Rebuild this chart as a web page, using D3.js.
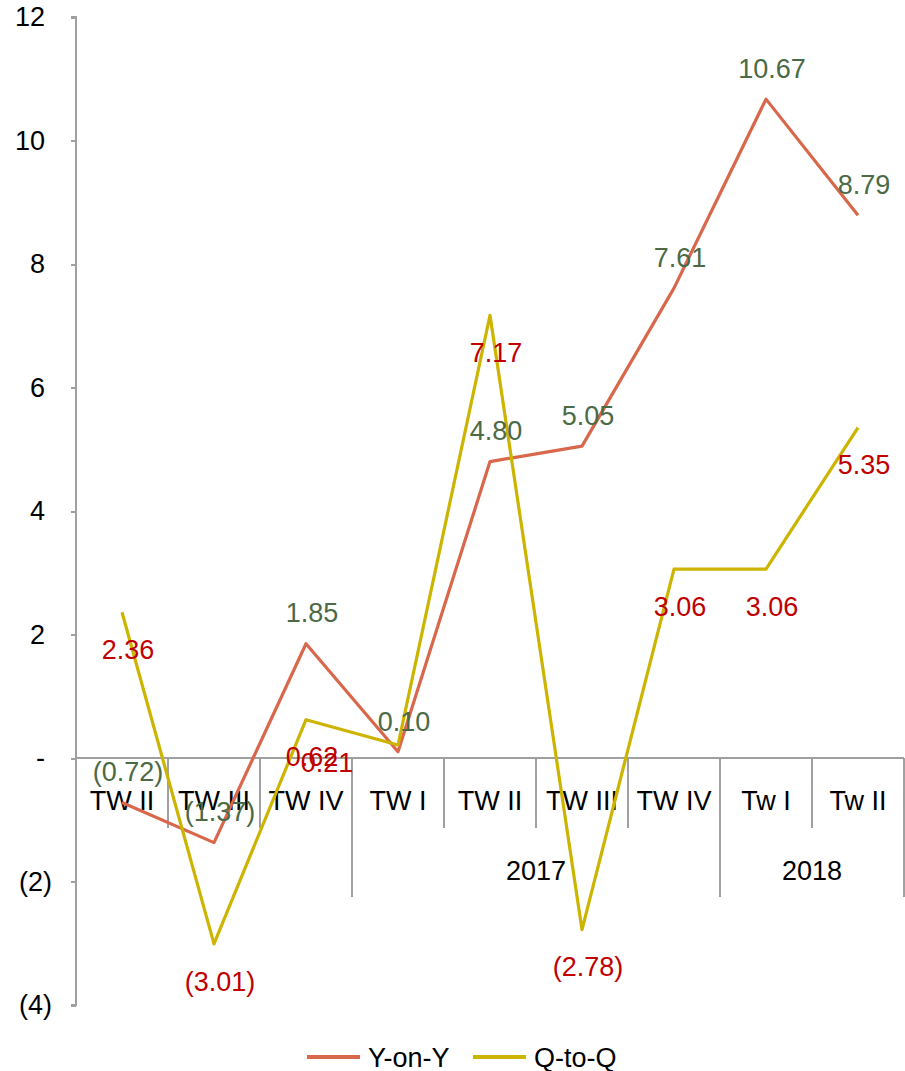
<!DOCTYPE html>
<meta charset="utf-8">
<style>
body{ margin:0; background:#fff; }
text{ font-family:"Liberation Sans", Arial, sans-serif; font-size:27px; }
.axis path, .axis line{ stroke:#a0a0a0; stroke-width:2px; shape-rendering:crispEdges; }
.grp line{ stroke:#a0a0a0; stroke-width:2px; shape-rendering:crispEdges; }
</style>
<body>
<script src="https://d3js.org/d3.v7.min.js"></script>
<script>
// quarters along the bottom
var quarters = ["TW II","TW III","TW IV","TW I","TW II","TW III","TW IV","Tw I","Tw II"];
// year groups under the quarters
var years = ["2017","2018"];
var yearFrom = [3, 7];
var yearTo = [6, 8];

var yoy = [-0.72, -1.37, 1.85, 0.10, 4.80, 5.05, 7.61, 10.67, 8.79];
var qoq = [2.36, -3.01, 0.62, 0.21, 7.17, -2.78, 3.06, 3.06, 5.35];

var yTicks = [-4, -2, 0, 2, 4, 6, 8, 10, 12];

var W = 905, H = 1071;
var svg = d3.select("body").append("svg").attr("width", W).attr("height", H);

var x = d3.scaleBand().domain(d3.range(quarters.length)).range([76, 904]);
var y = d3.scaleLinear().domain([-4, 12]).range([1005, 17]);

var fmtNum = d3.format(".2f");
function paren(v, f){ return v < 0 ? "(" + f(-v) + ")" : f(v); }

// y axis
var yAxis = d3.axisLeft(y).tickValues(yTicks).tickSize(5).tickPadding(26)
  .tickFormat(function(d){ return d == 0 ? "-" : paren(d, d3.format("d")); });
var ga = svg.append("g").attr("class","axis").attr("transform","translate(76,0)").call(yAxis);
ga.select(".domain").attr("d", "M-5," + y(12) + "H0V" + y(-4) + "H-5");
ga.selectAll(".tick text").attr("fill","#000")
  .attr("x", function(d){ return d < 0 ? -24 : -31; });

// category axis on zero
var g0 = svg.append("g").attr("class","grp");
g0.append("line").attr("x1", 76).attr("x2", 904).attr("y1", y(0)).attr("y2", y(0));
var bounds = d3.range(1, quarters.length + 1);
g0.selectAll("line.div").data(bounds).enter().append("line").attr("class","div")
  .attr("x1", function(i){ return i < quarters.length ? x(i) : x(i-1) + x.bandwidth(); })
  .attr("x2", function(i){ return i < quarters.length ? x(i) : x(i-1) + x.bandwidth(); })
  .attr("y1", y(0))
  .attr("y2", function(i){ return (yearFrom.indexOf(i) >= 0 || yearTo.indexOf(i-1) >= 0) ? 897 : 828; });

svg.append("g").selectAll("text").data(quarters).enter().append("text")
  .attr("x", function(d,i){ return x(i) + x.bandwidth()/2; })
  .attr("y", 810).attr("text-anchor","middle").text(function(d){ return d; });

svg.append("g").selectAll("text").data(years).enter().append("text")
  .attr("x", function(d,i){ return (x(yearFrom[i]) + x(yearTo[i]) + x.bandwidth())/2; })
  .attr("y", 880).attr("text-anchor","middle").text(function(d){ return d; });

// lines
var cx = function(d,i){ return x(i) + x.bandwidth()/2; };
var line = d3.line().x(cx).y(function(d){ return y(d); });
var cY = "#d9674b", cQ = "#ccb400";

svg.append("path").datum(yoy).attr("d", line).attr("fill","none")
  .attr("stroke", cY).attr("stroke-width", 3.2).attr("stroke-linejoin","round");
svg.append("path").datum(qoq).attr("d", line).attr("fill","none")
  .attr("stroke", cQ).attr("stroke-width", 3.2).attr("stroke-linejoin","round");

// data labels
svg.append("g").selectAll("text").data(yoy).enter().append("text")
  .attr("x", function(d,i){ return cx(d,i) + 6; })
  .attr("y", function(d){ return y(d) - 31 + 9.7; })
  .attr("text-anchor","middle").attr("fill","#4b6a45")
  .text(function(d){ return paren(d, fmtNum); });

svg.append("g").selectAll("text").data(qoq).enter().append("text")
  .attr("x", function(d,i){ return cx(d,i) + (i == 3 ? -71 : 6); })
  .attr("y", function(d,i){ return y(d) + (i == 3 ? 17 : 37) + 9.7; })
  .attr("text-anchor","middle").attr("fill","#c00000")
  .text(function(d){ return paren(d, fmtNum); });

// legend
var series = ["Y-on-Y","Q-to-Q"];
var lg = svg.append("g").selectAll("g").data(series).enter().append("g")
  .attr("transform", function(d,i){ return "translate(" + (307 + i*166) + ",1057)"; });
lg.append("line").attr("x1",0).attr("x2",53).attr("y1",0).attr("y2",0)
  .attr("stroke", function(d,i){ return i == 0 ? cY : cQ; }).attr("stroke-width",4);
lg.append("text").attr("x",61).attr("y",10).text(function(d){ return d; });
</script>
</body>
